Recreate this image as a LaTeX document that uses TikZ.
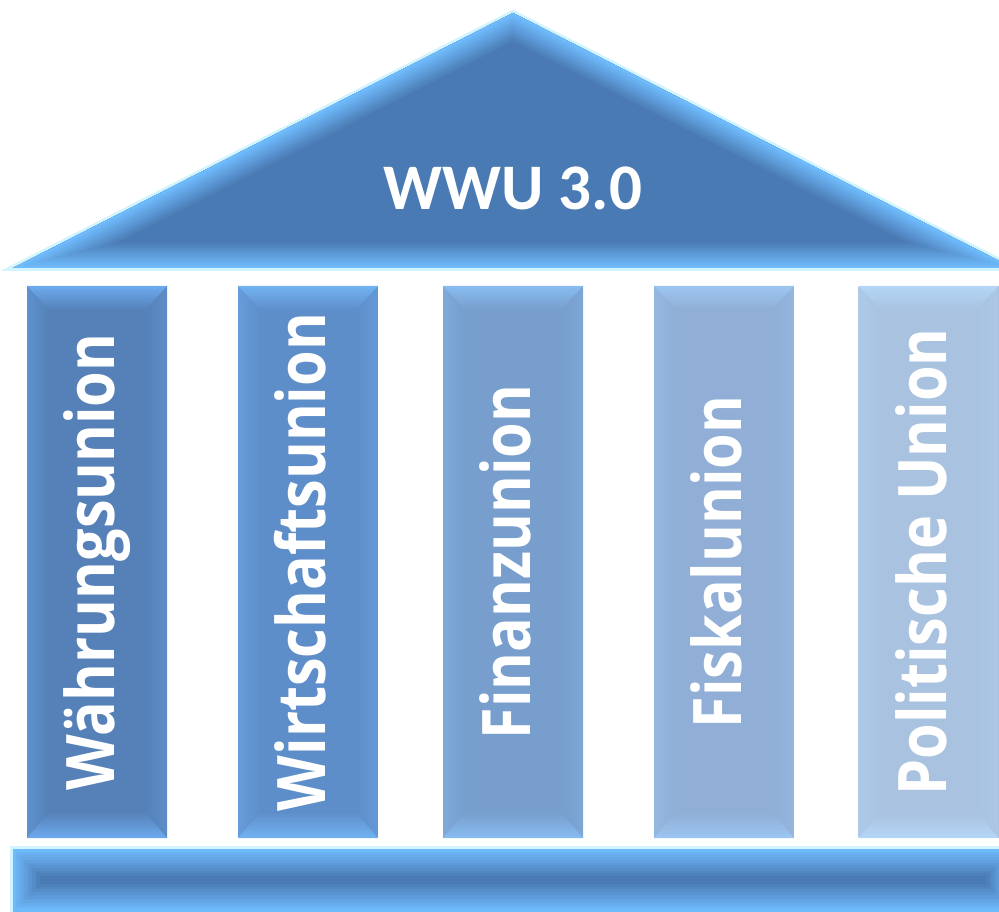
\documentclass[tikz,border=0pt]{standalone}
\usepackage{fontspec}
\newfontfamily\roofont{Carlito}
\newfontfamily\pillarfont[FakeStretch=0.86]{Open Sans}
\usetikzlibrary{calc}

\definecolor{roofblue}{HTML}{4A7AB3}
\definecolor{edgeblue}{HTML}{6FBAFB}
\definecolor{glowcyan}{HTML}{D2F4FF}
\definecolor{pilA}{HTML}{5581B8}
\definecolor{pilAL}{HTML}{6DAAEE}
\definecolor{pilB}{HTML}{5E8EC9}
\definecolor{pilBL}{HTML}{72B2F2}
\definecolor{pilC}{HTML}{779ECC}
\definecolor{pilCL}{HTML}{88BCF2}
\definecolor{pilD}{HTML}{90AED6}
\definecolor{pilDL}{HTML}{9CC6F2}
\definecolor{pilE}{HTML}{A8C2E0}
\definecolor{pilEL}{HTML}{B5D6F7}

\tikzset{
  pillar/.style={rectangle, inner sep=0pt, minimum width=140pt, minimum height=552pt, fill=#1,
    path picture={
      \coordinate (nw) at (path picture bounding box.north west);
      \coordinate (ne) at (path picture bounding box.north east);
      \coordinate (sw) at (path picture bounding box.south west);
      \coordinate (se) at (path picture bounding box.south east);
      % side bevels
      \shade[left color=#1!60!#1L, right color=#1]
        (nw) -- ($(nw)+(22pt,-24pt)$) -- ($(sw)+(22pt,26pt)$) -- (sw) -- cycle;
      \shade[left color=#1, right color=#1!70!#1L]
        (ne) -- ($(ne)+(-22pt,-24pt)$) -- ($(se)+(-22pt,26pt)$) -- (se) -- cycle;
      % top and bottom bevels
      \shade[top color=#1L, bottom color=#1]
        (nw) -- (ne) -- ($(ne)+(-22pt,-24pt)$) -- ($(nw)+(22pt,-24pt)$) -- cycle;
      \shade[bottom color=#1L, top color=#1]
        (sw) -- (se) -- ($(se)+(-22pt,26pt)$) -- ($(sw)+(22pt,26pt)$) -- cycle;
    }},
  pillartext/.style={rotate=90, text=white, inner sep=0pt,
    font=\pillarfont\bfseries\fontsize{67}{67}\selectfont,
    text height=51pt, text depth=16pt},
  rooftext/.style={text=white, inner sep=0pt,
    font=\roofont\bfseries\fontsize{65}{65}\selectfont},
}

\begin{document}
\begin{tikzpicture}[x=1pt, y=1pt]
  \useasboundingbox (0,0) rectangle (999,911);
  \clip (0,0) rectangle (999,911);

  % roof
  \coordinate (roofL) at (13,643);
  \coordinate (roofT) at (513,898);
  \coordinate (roofR) at (1013,643);
  \draw[glowcyan, line width=6pt] (roofL) -- (roofT) -- (roofR) -- cycle;
  \begin{scope}
    \clip (roofL) -- (roofT) -- (roofR) -- cycle;
    \fill[roofblue] (roofL) -- (roofT) -- (roofR) -- cycle;
    \foreach \i [evaluate=\i as \w using (11-\i)*5, evaluate=\i as \c using int(100-10*\i)] in {1,...,10}
      \draw[line width=\w pt, roofblue!\c!edgeblue] (roofL) -- (roofT) -- (roofR) -- cycle;
  \end{scope}
  \node[rooftext] (wwu) at (513,723) {WWU 3.0};

  % base
  \coordinate (baseSW) at (13,0);
  \coordinate (baseNE) at (1013,62);
  \draw[glowcyan, line width=6pt] (baseSW) rectangle (baseNE);
  \begin{scope}
    \clip (baseSW) rectangle (baseNE);
    \fill[roofblue] (baseSW) rectangle (baseNE);
    \foreach \i [evaluate=\i as \w using (11-\i)*5.4, evaluate=\i as \c using int(100-10*\i)] in {1,...,10}
      \draw[line width=\w pt, roofblue!\c!edgeblue] (baseSW) rectangle (baseNE);
  \end{scope}

  % pillars
  \foreach \name/\pos/\col/\label in {waehrung/97/pilA/Währungsunion,
      wirtschaft/308/pilB/Wirtschaftsunion, finanz/513/pilC/Finanzunion,
      fiskal/724/pilD/Fiskalunion, politik/928.5/pilE/Politische Union} {
    \node[pillar=\col] (\name) at (\pos,349) {};
    \node[pillartext] (\name-text) at (\name) {\label};
  }
\end{tikzpicture}
\end{document}
